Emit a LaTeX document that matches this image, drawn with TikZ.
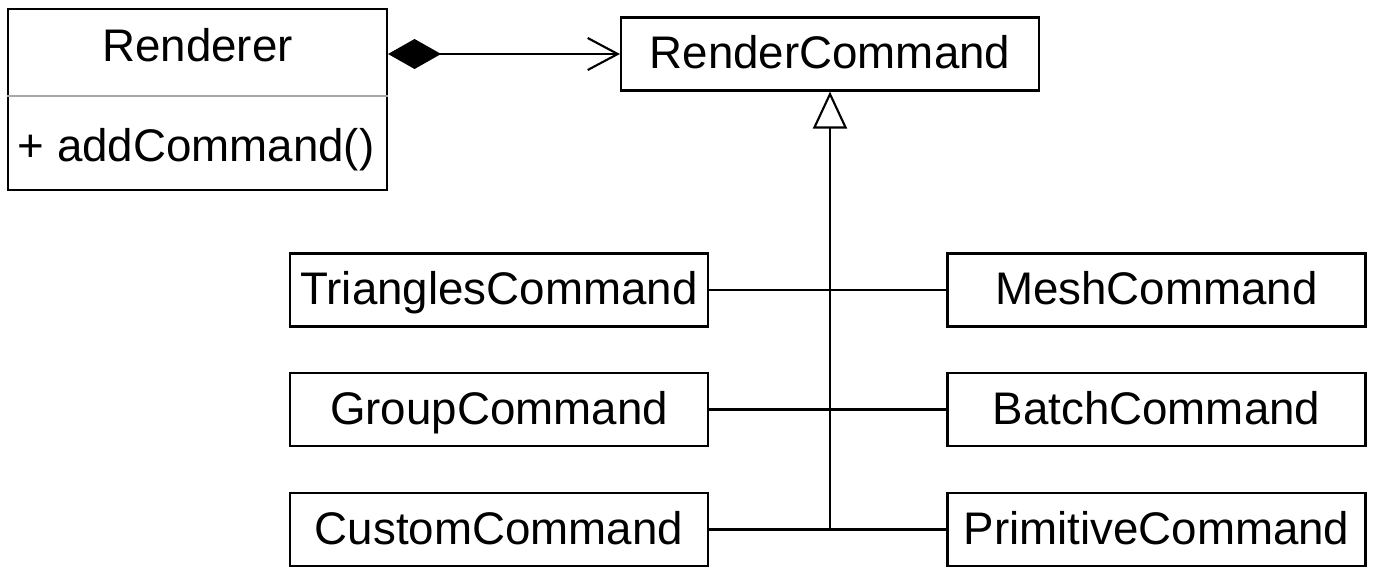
\documentclass[tikz,border=0pt]{standalone}
\usepackage{fontspec}
\setmainfont{Liberation Sans}
\usetikzlibrary{arrows.meta}

\tikzset{
  umlfont/.style={font=\fontsize{13}{15}\selectfont},
  cls/.style={draw, umlfont, line width=0.6pt, minimum width=4.18cm, minimum height=0.73cm, inner sep=0pt, text depth=0.2ex},
  link/.style={line width=0.6pt},
}

\begin{document}
\begin{tikzpicture}
\useasboundingbox (0,0) rectangle (13.76,-5.8);
% renderer class with one method
\node[cls, minimum width=3.79cm, minimum height=1.81cm] (renderer) at (1.975,-0.995) {};
\node[umlfont, inner sep=0pt] (rtitle) at (1.975,-0.45) {Renderer};
\node[umlfont, anchor=west, inner sep=0pt] (radd) at (0.17,-1.50) {+ addCommand()};
\draw[gray!70, line width=0.6pt] ([yshift=0.035cm]renderer.west) -- ([yshift=0.035cm]renderer.east);
% base command
\node[cls] (rcmd) at (8.30,-0.54) {RenderCommand};
% subclasses
\node[cls] (tri) at (4.99,-2.90) {TrianglesCommand};
\node[cls] (group) at (4.99,-4.095) {GroupCommand};
\node[cls] (custom) at (4.99,-5.295) {CustomCommand};
\node[cls] (mesh) at (11.565,-2.90) {MeshCommand};
\node[cls] (batch) at (11.565,-4.095) {BatchCommand};
\node[cls] (prim) at (11.565,-5.295) {PrimitiveCommand};
\coordinate (join) at (rcmd.south |- custom.east);
\draw[link, {Diamond[length=5.3mm,width=3mm]}-{Straight Barb[length=3mm,width=3.2mm]}] (renderer.east |- rcmd.west) -- (rcmd.west);
\draw[link, -{Triangle[open,length=3.7mm,width=3.4mm]}] (join) -- (rcmd.south);
\draw[link] (tri.east) -- (mesh.west);
\draw[link] (group.east) -- (batch.west);
\draw[link] (custom.east) -- (prim.west);
\end{tikzpicture}
\end{document}
